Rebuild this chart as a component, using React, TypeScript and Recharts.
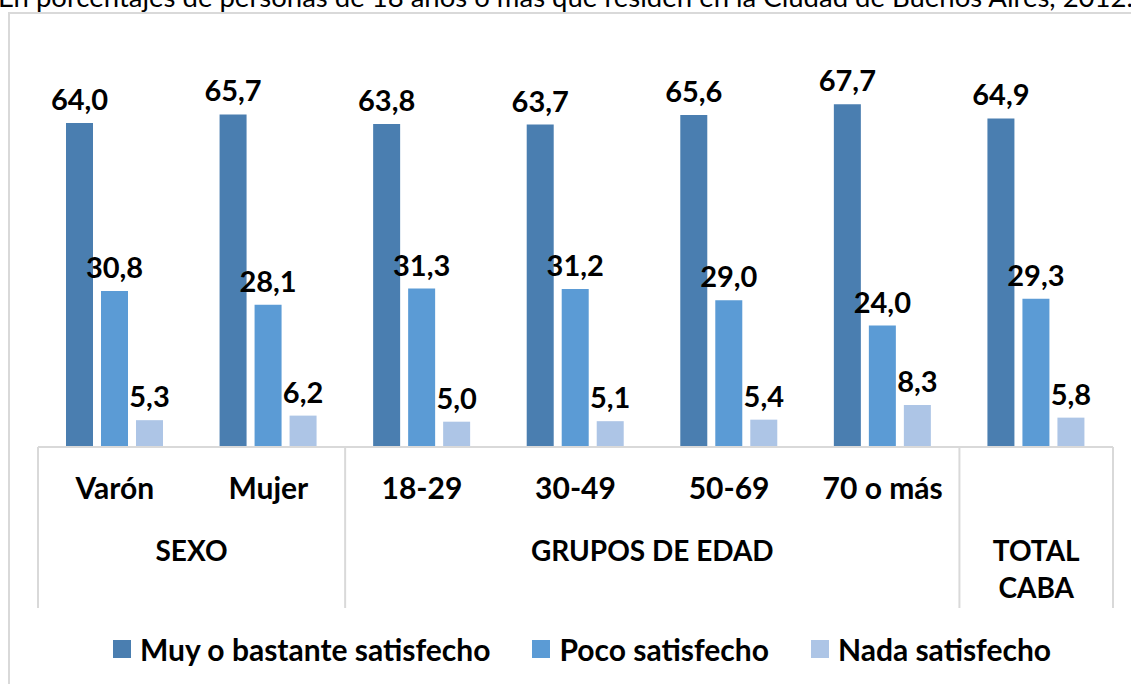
import { BarChart, Bar, XAxis, YAxis, LabelList } from "recharts";

const categorias = ["Varón", "Mujer", "18-29", "30-49", "50-69", "70 o más", ""];
const muySatisfecho = [64.0, 65.7, 63.8, 63.7, 65.6, 67.7, 64.9];
const pocoSatisfecho = [30.8, 28.1, 31.3, 31.2, 29.0, 24.0, 29.3];
const nadaSatisfecho = [5.3, 6.2, 5.0, 5.1, 5.4, 8.3, 5.8];

// grupos del eje: cuántas categorías abarca cada uno
const grupos = ["SEXO", "GRUPOS DE EDAD", "TOTAL\nCABA"];
const gruposSpan = [2, 4, 1];

const series = [
  { key: "muy", name: "Muy o bastante satisfecho", color: "#4a7eb0" },
  { key: "poco", name: "Poco satisfecho", color: "#5b9bd5" },
  { key: "nada", name: "Nada satisfecho", color: "#adc5e6" },
];

const data = categorias.map((c, i) => ({
  categoria: c || `total-${i}`,
  etiqueta: c,
  muy: muySatisfecho[i],
  poco: pocoSatisfecho[i],
  nada: nadaSatisfecho[i],
}));

const WIDTH = 1131;
const HEIGHT = 684;
const AXIS_H = 161;
const MARGIN = { top: 42, right: 18, left: 38, bottom: 237 - AXIS_H };
const PLOT_W = WIDTH - MARGIN.left - MARGIN.right;
const BAND = PLOT_W / categorias.length;
const AXIS_Y = 447;
const GRID = "#d9d9d9";
const FONT = "Lato, 'Open Sans', sans-serif";

const fmt = (v: number) => v.toFixed(1).replace(".", ",");

// índice de la primera categoría de cada grupo
const starts: number[] = [];
gruposSpan.reduce((acc, n) => {
  starts.push(acc);
  return acc + n;
}, 0);

function Tick(props: any) {
  const { x, index } = props;
  const label = data[index]?.etiqueta ?? "";
  const left = x - BAND / 2;
  const items: React.ReactNode[] = [];
  const gi = starts.indexOf(index);
  if (gi >= 0) {
    items.push(
      <line key="sep-l" x1={left} x2={left} y1={AXIS_Y} y2={AXIS_Y + AXIS_H} stroke={GRID} strokeWidth={2} />
    );
    const cx = left + (gruposSpan[gi] * BAND) / 2;
    grupos[gi].split("\n").forEach((ln, k) => {
      items.push(
        <text key={"g" + k} x={cx} y={AXIS_Y + 114 + k * 37} textAnchor="middle" fontFamily={FONT} fontWeight={700} fontSize={28} fill="#000">
          {ln}
        </text>
      );
    });
  }
  if (index === categorias.length - 1) {
    const right = x + BAND / 2;
    items.push(
      <line key="sep-r" x1={right} x2={right} y1={AXIS_Y} y2={AXIS_Y + AXIS_H} stroke={GRID} strokeWidth={2} />
    );
  }
  return (
    <g>
      {items}
      {label && (
        <text x={x} y={AXIS_Y + 52} textAnchor="middle" fontFamily={FONT} fontWeight={700} fontSize={30} fill="#000">
          {label}
        </text>
      )}
    </g>
  );
}

function Leyenda() {
  return (
    <div style={{ position: "absolute", left: 113, top: 630, display: "flex", alignItems: "center", fontFamily: FONT, fontWeight: 700, fontSize: 30, lineHeight: "38px", color: "#000", whiteSpace: "nowrap" }}>
      {series.map((s, i) => (
        <div key={s.key} style={{ display: "flex", alignItems: "center", marginLeft: i ? 42 : 0 }}>
          <span style={{ width: 18, height: 18, background: s.color, display: "inline-block", marginRight: 9 }} />
          <span>{s.name}</span>
        </div>
      ))}
    </div>
  );
}

export default function App() {
  return (
    <div style={{ position: "absolute", left: 0, top: 0, width: WIDTH, height: HEIGHT, overflow: "hidden", background: "#fff" }}>
      <div style={{ position: "absolute", left: -2, top: -17, whiteSpace: "nowrap", fontFamily: FONT, fontSize: 27.5, lineHeight: "27px", color: "#000" }}>
        En porcentajes de personas de 18 años o más que residen en la Ciudad de Buenos Aires, 2012.
      </div>
      <div style={{ position: "absolute", left: 8, top: 12, width: 1200, height: 800, border: `2px solid ${GRID}` }} />
      <div style={{ position: "absolute", left: 0, top: 0 }}>
        <BarChart width={WIDTH} height={HEIGHT} data={data} margin={MARGIN} barSize={27} barGap={8}>
          <XAxis
            dataKey="categoria"
            interval={0}
            tickLine={false}
            axisLine={{ stroke: GRID, strokeWidth: 2 }}
            tick={<Tick />}
            height={AXIS_H}
          />
          <YAxis hide domain={[0, 80]} />
          {series.map((s) => (
            <Bar key={s.key} dataKey={s.key} name={s.name} fill={s.color} isAnimationActive={false}>
              <LabelList
                dataKey={s.key}
                position="top"
                offset={13}
                formatter={(v: any) => fmt(Number(v))}
                style={{ fontFamily: FONT, fontWeight: 700, fontSize: 29, fill: "#000" }}
              />
            </Bar>
          ))}
        </BarChart>
      </div>
      <Leyenda />
    </div>
  );
}
